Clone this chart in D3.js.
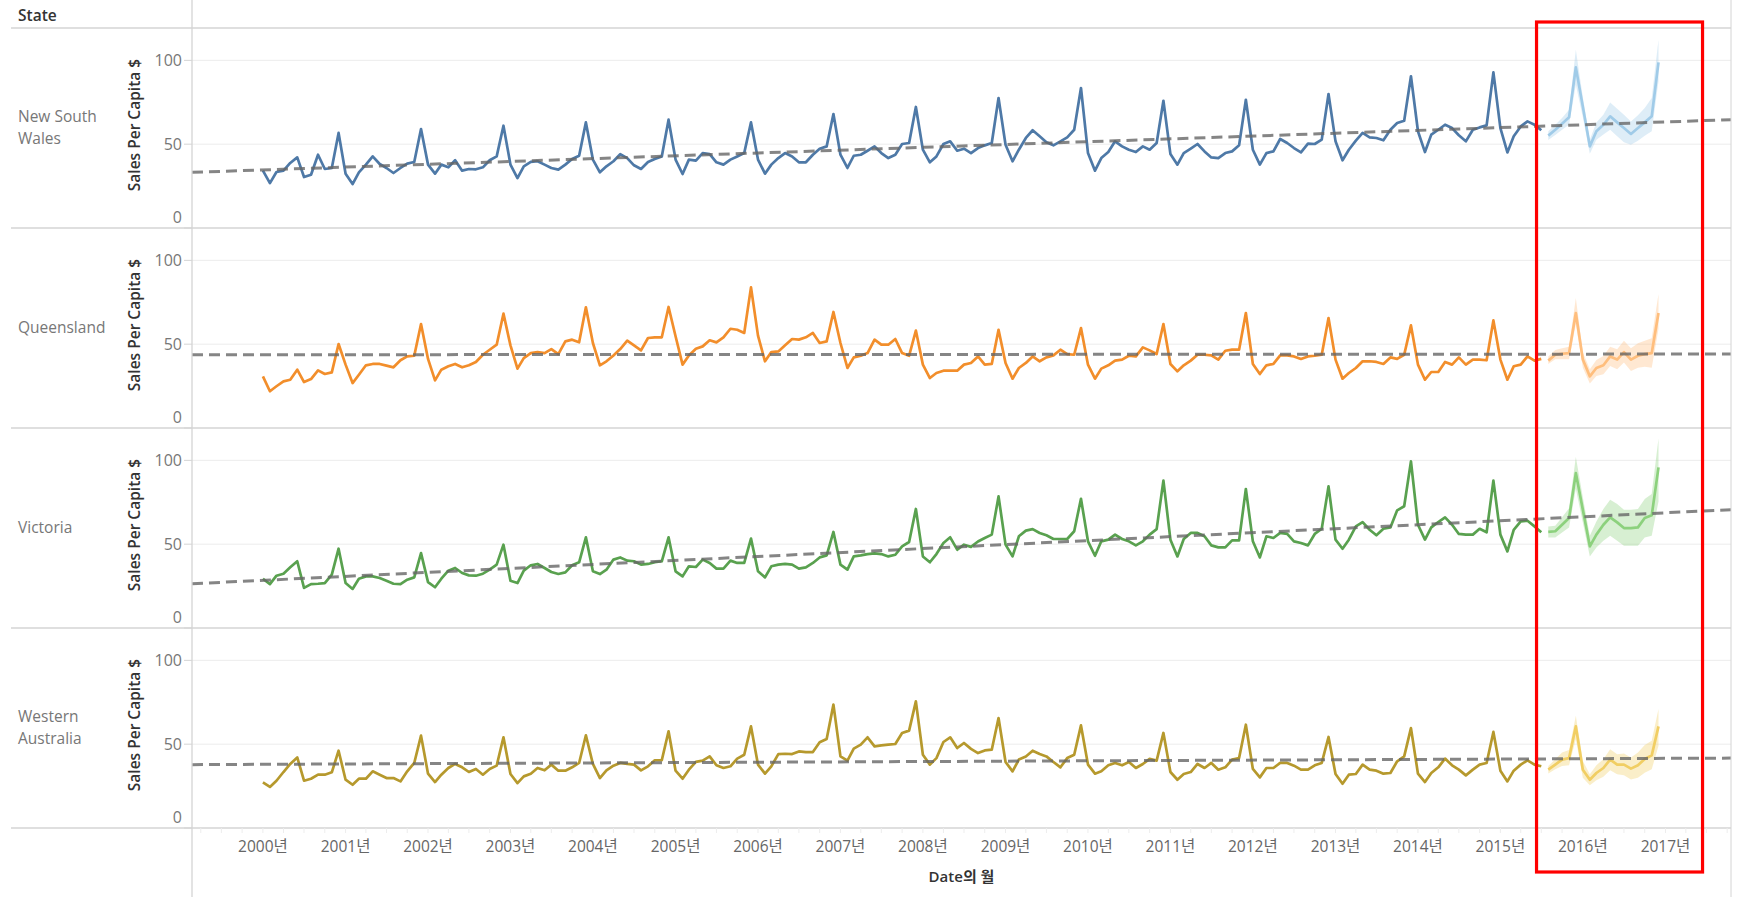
<!DOCTYPE html>
<html><head><meta charset="utf-8">
<script src="https://cdn.jsdelivr.net/npm/d3@7"></script>
<style>
body{margin:0;background:#fff;}
svg{display:block;font-family:"Open Sans","Noto Sans","Noto Sans CJK KR",sans-serif;}
</style></head><body>
<svg id="chart" width="1740" height="906"></svg>
<script>
// ---------------- DATA ----------------
const states = ["New South Wales","Queensland","Victoria","Western Australia"];
const stateLabelLines = [["New South","Wales"],["Queensland"],["Victoria"],["Western","Australia"]];
const firstMonth = [2000, 0];      // Jan 2000
const forecastFirstIndex = 187;    // Aug 2015
const yearLabels = d3.range(2000, 2018);
const yTickValues = [0, 50, 100];

const nswSales = [34.2,26.8,33.4,34.2,38.8,42.1,30.4,31.8,43.7,35.2,35.8,56.7,
32.4,26.2,33.2,37.8,42.7,38.2,35.8,32.8,35.8,38.4,39.4,59.0,
37.8,32.4,37.8,36.2,40.4,34.2,35.2,35.0,36.2,40.4,42.7,61.0,
37.8,29.8,36.8,39.4,39.8,37.8,35.8,34.8,37.8,41.2,43.1,63.0,
40.8,33.2,36.8,39.8,44.1,41.7,37.4,35.2,39.4,41.2,42.7,64.6,
40.8,32.2,40.8,40.2,44.7,44.1,39.2,37.8,40.8,42.7,44.7,63.0,
40.8,32.4,37.8,41.7,44.7,42.7,39.2,39.2,43.7,47.3,48.7,68.0,
43.7,35.8,43.1,43.7,46.1,48.7,44.7,41.7,43.7,50.1,50.7,72.2,
46.7,39.2,42.7,50.1,51.7,46.1,47.3,44.7,47.7,49.3,50.7,77.5,
49.7,39.8,46.7,53.7,58.3,54.7,51.1,49.3,51.7,54.1,58.6,83.5,
44.7,34.2,41.7,45.3,51.7,48.7,46.7,45.3,48.7,46.7,50.7,75.9,
44.1,37.8,44.7,47.3,50.1,45.7,42.1,41.7,44.7,45.7,49.3,76.5,
46.7,37.8,44.7,45.7,53.1,50.7,47.7,45.1,50.3,50.1,52.7,79.9,
51.7,40.4,46.7,52.1,56.7,54.1,53.7,52.3,58.6,62.6,64.0,90.5,
57.7,45.3,55.7,58.6,61.6,59.6,55.3,51.7,58.6,60.0,61.2,92.8,
59.6,45.1,54.7,60.6,63.6,61.6,58.3];

const qldSales = [30.8,21.9,24.9,27.8,28.8,34.8,27.4,29.2,34.4,32.2,33.2,50.1,
37.8,26.8,31.8,37.4,38.2,38.2,37.2,36.2,40.4,42.7,43.1,62.0,
41.2,28.4,34.8,36.8,38.2,36.2,37.4,39.4,43.7,46.7,49.7,68.2,
49.3,35.4,41.7,44.7,45.3,44.7,47.1,44.1,51.7,52.7,51.1,72.0,
50.7,37.4,39.8,43.3,47.1,52.1,49.3,46.3,53.7,54.1,54.1,72.2,
54.7,37.8,43.3,47.3,48.7,52.3,51.1,54.1,59.2,58.6,56.7,83.9,
55.1,39.8,45.3,45.7,49.3,53.1,52.7,54.1,56.7,50.7,51.7,69.2,
50.7,35.8,42.1,43.1,44.7,52.7,49.7,49.7,53.1,44.7,43.1,58.1,
37.8,29.8,32.8,34.2,34.2,34.2,37.8,38.8,42.7,37.8,38.2,58.6,
38.8,29.4,35.8,38.8,42.7,39.8,42.1,43.3,46.7,44.1,43.7,59.6,
37.8,29.4,35.4,37.4,40.2,40.8,43.1,42.7,48.1,46.3,44.1,62.0,
38.2,33.8,37.4,40.2,43.7,43.7,43.3,40.8,46.1,46.7,46.7,68.6,
38.2,32.2,37.4,38.2,43.3,43.3,42.7,41.2,42.7,43.1,43.7,65.6,
40.8,29.4,32.8,35.8,39.8,39.8,39.4,38.2,42.1,41.2,43.7,61.2,
37.8,28.8,33.4,33.4,39.4,37.8,42.1,37.8,40.8,40.8,40.4,64.2,
40.8,28.8,36.8,37.8,42.7,40.2,41.2];

const vicSales = [29.4,26.2,31.2,32.4,36.2,39.8,23.9,26.2,26.4,26.8,31.8,47.3,
26.8,23.3,29.4,30.8,30.8,29.8,28.2,26.4,26.2,28.8,30.2,44.7,
27.4,24.3,29.4,34.2,35.8,32.8,31.4,31.2,32.4,34.8,37.8,49.7,
28.2,26.8,34.2,37.4,38.2,35.8,33.4,32.2,33.2,37.4,39.2,54.1,
33.8,32.2,34.8,40.8,42.1,40.2,39.8,37.8,38.2,39.2,39.8,54.1,
33.8,30.8,36.8,36.4,40.8,38.8,35.4,35.4,40.2,38.8,38.8,53.3,
33.8,30.2,36.8,37.8,38.2,37.8,35.4,36.2,38.8,42.1,43.3,57.3,
37.8,34.8,42.7,43.3,44.1,44.5,44.1,42.7,43.7,48.7,51.3,71.0,
42.7,39.2,44.1,50.7,54.1,46.7,49.7,48.4,51.6,53.7,55.7,78.5,
49.7,42.7,54.7,58.1,59.0,56.7,55.3,53.1,53.1,53.1,57.7,77.1,
51.7,43.1,51.7,52.7,55.7,53.1,51.7,49.3,51.7,55.7,59.0,87.9,
52.7,42.7,53.1,56.7,56.7,54.7,49.3,48.1,48.1,52.3,52.3,82.9,
51.7,42.1,54.7,53.7,56.7,56.1,51.7,50.7,49.3,56.1,59.2,84.5,
52.7,47.3,52.7,60.6,63.2,58.6,55.3,59.2,60.0,70.2,72.6,99.4,
61.6,52.7,60.0,63.2,66.0,61.6,56.1,55.7,55.7,59.2,57.1,87.9,
55.7,45.7,58.6,63.6,64.0,60.6,57.1];

const waSales = [27.2,24.5,28.2,33.4,38.2,42.1,28.2,29.4,31.8,31.8,33.2,46.1,
28.8,25.8,29.4,29.4,33.8,31.8,29.8,29.8,27.8,33.8,38.8,55.1,
32.4,27.4,31.8,35.8,38.2,36.2,33.4,35.2,31.8,35.2,37.2,54.1,
32.2,26.8,30.8,32.4,35.8,34.4,37.8,34.2,34.2,36.2,38.8,55.3,
38.2,29.8,34.4,37.2,38.8,38.2,37.8,34.4,36.8,40.4,40.4,57.7,
34.2,29.4,34.8,39.4,40.2,42.7,37.4,35.8,36.8,41.4,43.7,60.6,
37.8,32.4,36.8,44.1,44.3,44.1,45.7,45.3,45.3,51.1,53.1,73.6,
42.7,40.2,47.3,49.7,54.1,48.7,49.3,49.7,50.1,56.7,58.1,75.5,
43.7,37.8,41.7,51.3,54.1,47.7,50.7,47.2,44.7,46.3,46.7,65.6,
39.4,33.8,40.8,42.7,46.1,44.1,42.7,39.4,36.2,41.7,43.7,61.2,
37.8,32.4,33.8,37.4,38.8,37.4,39.4,35.8,38.2,41.2,40.2,56.7,
33.4,28.8,32.2,33.4,38.2,35.8,38.8,34.8,36.2,40.8,41.7,61.6,
35.2,30.2,35.8,35.8,38.8,38.8,37.2,34.8,34.8,37.4,38.8,54.3,
32.2,26.4,31.8,32.2,37.8,34.8,34.2,32.4,32.8,39.8,42.7,59.6,
32.4,27.4,32.8,36.2,41.4,37.4,34.8,31.4,34.8,37.8,38.8,57.3,
34.2,27.8,34.2,37.8,40.4,37.8,36.8];

// forecasts Aug 2015 - Dec 2016
const nswForecast = [55.1,58.6,62.2,66.0,95.8,72.4,48.7,57.7,61.6,66.6,63.0,59.6,56.1,59.6,63.0,66.6,98.8];
const nswLower    = [52.5,55.5,58.6,61.6,85.5,66.0,44.3,52.7,55.7,58.6,54.7,51.1,49.7,52.1,55.1,57.7,87.5];
const nswUpper    = [57.7,61.6,65.6,70.6,106.4,78.0,52.7,63.0,67.6,74.9,71.2,67.6,63.6,67.2,71.6,77.5,112.3];
const qldForecast = [40.2,43.7,44.3,44.7,68.6,40.8,30.8,35.8,37.4,42.7,40.8,45.3,40.8,43.1,44.1,44.7,68.6];
const qldLower    = [38.2,41.0,41.0,41.0,62.0,36.0,26.5,31.0,32.0,37.0,35.0,39.0,34.0,36.0,36.5,36.0,59.0];
const qldUpper    = [42.7,46.5,47.5,48.5,77.5,45.0,35.0,40.5,43.0,48.5,47.0,52.0,47.5,50.5,52.0,53.5,80.0];
const vicForecast = [57.3,57.7,61.6,65.6,92.4,70.6,48.7,55.7,61.6,66.0,63.0,59.6,59.6,60.0,65.6,67.2,95.8];
const vicLower    = [54.0,54.0,57.0,60.0,83.0,63.0,42.7,48.0,52.0,55.0,52.0,49.0,49.0,49.0,54.0,55.0,75.5];
const vicUpper    = [60.5,61.0,66.0,71.5,102.0,78.0,55.0,63.5,71.0,76.5,74.0,70.5,70.5,71.0,77.0,80.0,113.0];
const waForecast  = [34.8,37.8,40.8,41.7,60.6,34.8,28.8,32.8,35.8,40.8,37.8,37.8,35.4,37.4,41.2,43.3,60.6];
const waLower     = [32.5,35.0,37.0,37.5,53.0,30.0,25.5,28.5,30.5,34.5,32.0,31.5,29.0,30.0,33.0,35.0,49.0];
const waUpper     = [37.0,41.0,45.0,46.5,67.0,40.0,32.0,37.5,41.0,47.0,44.0,44.5,42.0,45.0,49.5,52.0,71.0];

// linear trend values at the left and right edges of the pane
const trendLeft  = [33.2, 43.7, 26.4, 37.8];
const trendRight = [64.6, 44.1, 70.6, 41.7];

// ---------------- STYLE ----------------
const histColors = ["#4e79a7","#f28e2b","#59a14f","#b6992d"];
const fcColors   = ["#a0cbe8","#ffbe7d","#8cd17d","#f1ce63"];

const seriesHist = [nswSales, qldSales, vicSales, waSales];
const seriesFc   = [nswForecast, qldForecast, vicForecast, waForecast];
const seriesLo   = [nswLower, qldLower, vicLower, waLower];
const seriesHi   = [nswUpper, qldUpper, vicUpper, waUpper];

const paneLeft = 192, paneRight = 1731;
const headerH = 28, panelH = 200;
const svg = d3.select("#chart");

const x = d3.scaleTime()
  .domain([new Date(1999, 1, 21), new Date(2017, 9, 18)])
  .range([paneLeft, paneRight]);
const monthDate = i => new Date(firstMonth[0], firstMonth[1] + i, 1);

const gridColor = "#ececec", borderColor = "#d4d4d4";

// header
svg.append("text").attr("x", 18).attr("y", 21)
  .attr("font-size", 15.5).attr("font-weight", 600).attr("fill", "#333")
  .text("State");

// panels
states.forEach((st, k) => {
  const top = headerH + k * panelH, bottom = top + panelH;
  const y = d3.scaleLinear().domain([0, 119.3]).range([bottom, top]);
  const g = svg.append("g");

  g.selectAll("line.grid").data([50, 100]).join("line")
    .attr("x1", paneLeft).attr("x2", paneRight)
    .attr("y1", d => y(d)).attr("y2", d => y(d))
    .attr("stroke", gridColor).attr("stroke-width", 1);

  g.selectAll("line.ytick").data(yTickValues).join("line")
    .attr("x1", paneLeft - 8).attr("x2", paneLeft)
    .attr("y1", d => y(d)).attr("y2", d => y(d))
    .attr("stroke", borderColor);
  g.selectAll("text.ytl").data(yTickValues).join("text")
    .attr("x", paneLeft - 10)
    .attr("y", d => d === 0 ? y(d) - 11 : y(d))
    .attr("dy", "0.35em").attr("text-anchor", "end")
    .attr("font-size", 16).attr("fill", "#777")
    .text(d => d);

  g.append("text")
    .attr("transform", `translate(135,${(top + bottom) / 2 - 3}) rotate(-90)`)
    .attr("text-anchor", "middle").attr("dy", "0.35em")
    .attr("font-size", 15.5).attr("font-weight", 600).attr("fill", "#333")
    .text("Sales Per Capita $");

  const lines = stateLabelLines[k];
  g.selectAll("text.row").data(lines).join("text")
    .attr("x", 18)
    .attr("y", (d, i) => (top + bottom) / 2 + (i - (lines.length - 1) / 2) * 22)
    .attr("dy", "0.35em").attr("font-size", 15.5).attr("fill", "#777")
    .text(d => d);

  const band = seriesFc[k].map((v, i) => ({date: monthDate(forecastFirstIndex + i), lo: seriesLo[k][i], hi: seriesHi[k][i]}));
  g.append("path").datum(band)
    .attr("d", d3.area().x(d => x(d.date)).y0(d => y(d.lo)).y1(d => y(d.hi)))
    .attr("fill", fcColors[k]).attr("fill-opacity", 0.35);

  const hist = seriesHist[k].map((v, i) => ({date: monthDate(i), v}));
  const line = d3.line().x(d => x(d.date)).y(d => y(d.v));
  g.append("path").datum(hist).attr("d", line)
    .attr("fill", "none").attr("stroke", histColors[k])
    .attr("stroke-width", 2.7).attr("stroke-linejoin", "round");

  const fc = seriesFc[k].map((v, i) => ({date: monthDate(forecastFirstIndex + i), v}));
  g.append("path").datum(fc).attr("d", line)
    .attr("fill", "none").attr("stroke", fcColors[k])
    .attr("stroke-width", 2.7).attr("stroke-linejoin", "round");

  const [d0, d1] = x.domain();
  g.append("path").datum([{date: d0, v: trendLeft[k]}, {date: d1, v: trendRight[k]}])
    .attr("d", line).attr("fill", "none")
    .attr("stroke", "#666").attr("stroke-opacity", 0.8)
    .attr("stroke-width", 3).attr("stroke-dasharray", "11,6");
});

const borderYs = d3.range(0, states.length + 1).map(k => headerH + k * panelH);
svg.selectAll("line.hb").data(borderYs).join("line")
  .attr("x1", 11).attr("x2", paneRight)
  .attr("y1", d => d).attr("y2", d => d)
  .attr("stroke", borderColor).attr("stroke-width", 1.3);

svg.append("line").attr("x1", paneLeft).attr("x2", paneLeft).attr("y1", 0).attr("y2", 897)
  .attr("stroke", borderColor).attr("stroke-width", 1.3);
svg.append("line").attr("x1", paneRight).attr("x2", paneRight).attr("y1", 0).attr("y2", 897)
  .attr("stroke", borderColor).attr("stroke-width", 1);

const axisY = headerH + states.length * panelH;
const quarterTicks = d3.timeMonth.every(3).range(x.domain()[0], x.domain()[1]);
svg.selectAll("line.xt").data(quarterTicks).join("line")
  .attr("x1", d => x(d)).attr("x2", d => x(d))
  .attr("y1", axisY).attr("y2", axisY + 5)
  .attr("stroke", "#ededed");
svg.selectAll("text.xl").data(yearLabels).join("text")
  .attr("x", d => x(new Date(d, 0, 1)))
  .attr("y", axisY + 19).attr("dy", "0.35em")
  .attr("text-anchor", "middle").attr("font-size", 15.5).attr("fill", "#666")
  .text(d => d + "년");
svg.append("text").attr("x", (paneLeft + paneRight) / 2).attr("y", 877)
  .attr("dy", "0.35em").attr("text-anchor", "middle")
  .attr("font-size", 15).attr("font-weight", 600).attr("fill", "#333")
  .text("Date의 월");

// red annotation box around the forecast
const boxX0 = x(new Date(2015, 5, 10)), boxX1 = x(new Date(2017, 5, 14));
svg.append("rect").attr("x", boxX0).attr("y", 22)
  .attr("width", boxX1 - boxX0).attr("height", 850)
  .attr("fill", "none").attr("stroke", "#ff0000").attr("stroke-width", 3.2);
</script>
</body></html>
